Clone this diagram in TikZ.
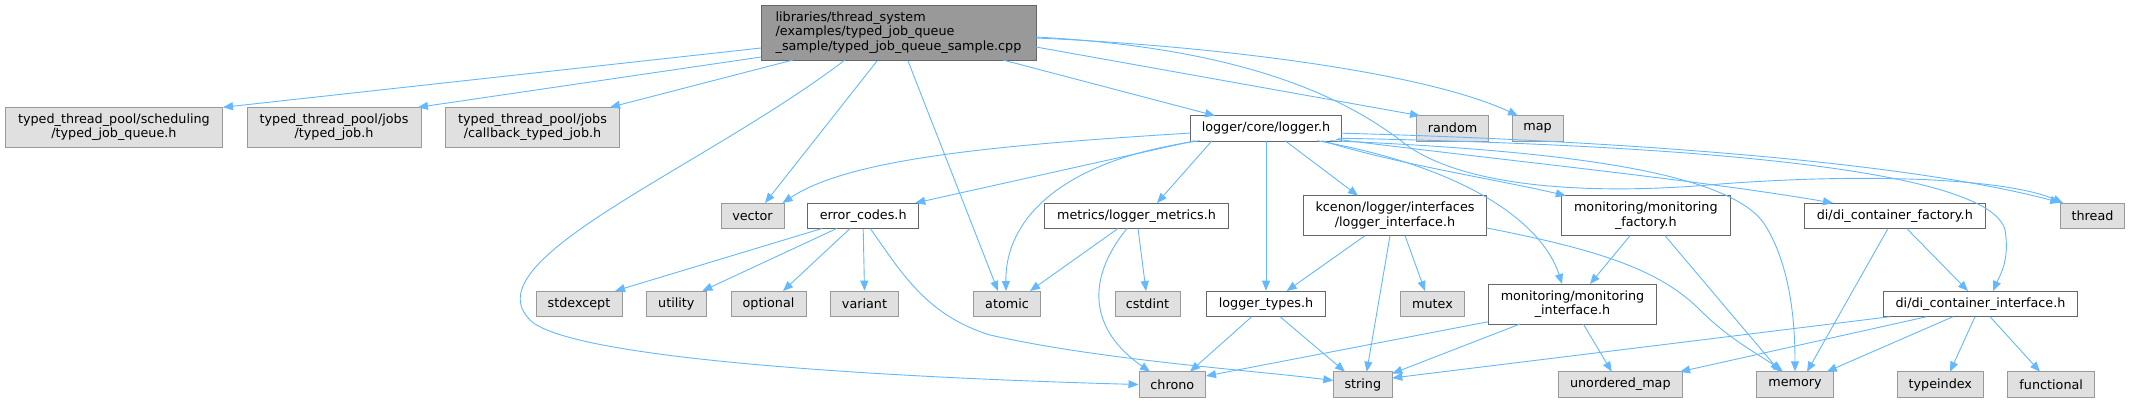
\documentclass[tikz,border=0pt]{standalone}
\usepackage{fontspec}
\setmainfont{DejaVu Sans}
\usetikzlibrary{arrows.meta,calc}
\definecolor{edgec}{HTML}{63B8FF}
\definecolor{gfill}{HTML}{E0E0E0}
\definecolor{gline}{HTML}{999999}
\definecolor{wline}{HTML}{666666}
\definecolor{rfill}{HTML}{999999}
\begin{document}
\begin{tikzpicture}[x=1bp,y=-1bp,
 base/.style={rectangle,inner sep=0pt,line width=0.9bp,minimum height=25.5bp,font=\fontsize{12.8}{14.5}\selectfont,align=center,text=black},
 sys/.style={base,draw=gline,fill=gfill},
 usr/.style={base,draw=wline,fill=white},
 rootbox/.style={base,draw=wline,fill=rfill,align=left,minimum height=55bp},
 two/.style={minimum height=40bp},
 dep/.style={draw=edgec,line width=0.9bp,-{Triangle[length=10bp,width=8bp]}}
]
\useasboundingbox (0,0) rectangle (2130,403);

% nodes
\node[rootbox,minimum width=275bp] (root) at (898.5,32.5) {libraries/thread\_system\\/examples/typed\_job\_queue\\\_sample/typed\_job\_queue\_sample.cpp};

\node[sys,two,minimum width=216.6bp] (sched) at (113.9,127.3) {typed\_thread\_pool/scheduling\\/typed\_job\_queue.h};
\node[sys,two,minimum width=174bp] (tjob) at (334,127.3) {typed\_thread\_pool/jobs\\/typed\_job.h};
\node[sys,two,minimum width=174bp] (cb) at (532.5,127.3) {typed\_thread\_pool/jobs\\/callback\_typed\_job.h};
\node[usr,minimum width=150.6bp] (logger) at (1266,128.2) {logger/core/logger.h};
\node[sys,minimum width=72bp] (random) at (1452.5,128.2) {random};
\node[sys,minimum width=51bp] (map) at (1537.5,128.2) {map};

\node[sys,minimum width=63bp] (vector) at (752.5,215.8) {vector};
\node[usr,minimum width=111bp] (errc) at (863.2,215.8) {error\_codes.h};
\node[usr,minimum width=184bp] (metrics) at (1136.5,215.8) {metrics/logger\_metrics.h};
\node[usr,two,minimum width=183.4bp] (lif) at (1395,215.7) {kcenon/logger/interfaces\\/logger\_interface.h};
\node[usr,two,minimum width=168.3bp] (mfac) at (1645.8,215.7) {monitoring/monitoring\\\_factory.h};
\node[usr,minimum width=181.7bp] (dfac) at (1894.8,215.8) {di/di\_container\_factory.h};
\node[sys,minimum width=63.6bp] (thread) at (2092.5,215.8) {thread};

\node[sys,minimum width=86bp] (stdexcept) at (579,303.8) {stdexcept};
\node[sys,minimum width=60.7bp] (utility) at (676.3,303.8) {utility};
\node[sys,minimum width=75bp] (optional) at (768.5,303.8) {optional};
\node[sys,minimum width=68.4bp] (variant) at (864.5,303.8) {variant};
\node[sys,minimum width=67.4bp] (atomic) at (1007,303.8) {atomic};
\node[sys,minimum width=65bp] (cstdint) at (1147.5,303.8) {cstdint};
\node[usr,minimum width=118.6bp] (ltypes) at (1266,303.8) {logger\_types.h};
\node[sys,minimum width=63.6bp] (mutex) at (1432.5,303.8) {mutex};
\node[usr,two,minimum width=168.4bp] (mif) at (1572.5,304) {monitoring/monitoring\\\_interface.h};
\node[usr,minimum width=194.4bp] (dif) at (1980.5,303.8) {di/di\_container\_interface.h};

\node[sys,minimum width=66.7bp] (chrono) at (1172.3,384.5) {chrono};
\node[sys,minimum width=59bp] (string) at (1362.8,384.5) {string};
\node[sys,minimum width=124bp] (umap) at (1620.3,384.5) {unordered\_map};
\node[sys,minimum width=77.4bp] (memory) at (1795,384.5) {memory};
\node[sys,minimum width=86.7bp] (typeindex) at (1940.3,384.5) {typeindex};
\node[sys,minimum width=87bp] (functional) at (2051.2,384.5) {functional};

% edges from root
\draw[dep] ($(root)+(-137.5,15.5)$) -- ($(sched)+(109.1,-20)$);
\draw[dep] ($(root)+(-137.5,24.5)$) -- ($(tjob)+(84,-20)$);
\draw[dep] ($(root)+(-105.5,27.5)$) -- ($(cb)+(77.5,-20)$);
\draw[dep] ($(root)+(-53.5,27.5)$) .. controls (700,170) and (470,260) .. (530,320)
   .. controls (570,360) and (900,378) .. (chrono.west);
\draw[dep] ($(root)+(-21.5,28.5)$) -- ($(vector)+(12.5,-12.8)$);
\draw[dep] ($(root)+(9.5,28.5)$) -- ($(atomic)+(-9,-12.8)$);
\draw[dep] ($(root)+(104.5,27.5)$) -- ($(logger)+(-51,-12.5)$);
\draw[dep] ($(root)+(137.5,14.5)$) -- ($(random)+(-32.5,-12.5)$);
\draw[dep] ($(root)+(137.5,5.5)$) .. controls (1200,45) and (1420,70) .. ($(map)+(-19.5,-12.5)$);
\draw[dep] ($(root)+(137.5,4.5)$) .. controls (1240,48) and (1340,95) .. (1400,140)
   .. controls (1460,190) and (1600,195) .. (1720,184)
   .. controls (1880,172) and (2010,180) .. ($(thread)+(-29.5,-12.8)$);

% edges from logger.h
\draw[dep] ($(logger)+(-75.3,4.8)$) .. controls (1000,145) and (850,158) .. ($(vector)+(30,-12.8)$);
\draw[dep] ($(logger)+(-71,12.5)$) -- ($(errc)+(52,-12.8)$);
\draw[dep] ($(logger)+(-66,12.5)$) .. controls (1060,160) and (1005,220) .. ($(atomic)+(-1,-12.8)$);
\draw[dep] ($(logger)+(-54,12.5)$) -- ($(metrics)+(20.5,-12.8)$);
\draw[dep] (logger.south) -- (ltypes.north);
\draw[dep] ($(logger)+(19,12.5)$) -- ($(lif)+(-37,-20)$);
\draw[dep] ($(logger)+(56,12.5)$) .. controls (1400,165) and (1500,180) .. ($(mfac)+(-80,-20)$);
\draw[dep] ($(logger)+(51,12.5)$) .. controls (1480,170) and (1545,230) .. ($(mif)+(-10.5,-20)$);
\draw[dep] ($(logger)+(64,12.5)$) .. controls (1550,150) and (1730,170) .. (1765,225)
   .. controls (1790,265) and (1795,320) .. (memory.north);
\draw[dep] ($(logger)+(70,11)$) .. controls (1500,160) and (1700,180) .. ($(dfac)+(-61.8,-12.8)$);
\draw[dep] ($(logger)+(72,10)$) .. controls (1700,145) and (1990,170) .. (2005,230)
   .. controls (2010,260) and (2000,275) .. ($(dif)+(12.5,-12.8)$);
\draw[dep] ($(logger)+(75.3,5)$) .. controls (1600,140) and (1900,160) .. (thread.north west);

% edges from error_codes.h
\draw[dep] ($(errc)+(-41.2,12.7)$) -- ($(stdexcept)+(36,-12.8)$);
\draw[dep] ($(errc)+(-26.5,12.7)$) -- ($(utility)+(26,-12.8)$);
\draw[dep] ($(errc)+(-13.2,12.7)$) -- ($(optional)+(14.5,-12.8)$);
\draw[dep] (errc.south) -- (variant.north);
\draw[dep] ($(errc)+(7,12.7)$) .. controls (900,270) and (925,315) .. (990,335)
   .. controls (1100,360) and (1250,370) .. ($(string)+(-29.5,-4)$);

% edges from metrics
\draw[dep] ($(metrics)+(-18.5,12.7)$) -- ($(atomic)+(23,-12.8)$);
\draw[dep] ($(metrics)+(1.5,12.7)$) -- ($(cstdint)+(-1.5,-12.8)$);
\draw[dep] ($(metrics)+(-9.5,12.7)$) .. controls (1085,280) and (1090,330) .. ($(chrono)+(-22.3,-12.8)$);

% edges from logger_types
\draw[dep] ($(ltypes)+(-14.3,12.9)$) -- ($(chrono)+(17.7,-12.8)$);
\draw[dep] ($(ltypes)+(14,12.9)$) -- ($(string)+(-17.8,-12.8)$);

% edges from logger_interface
\draw[dep] ($(lif)+(-30,20)$) -- ($(ltypes)+(20.7,-12.8)$);
\draw[dep] ($(lif)+(-5,20)$) -- ($(string)+(3.9,-12.8)$);
\draw[dep] ($(lif)+(10,20)$) -- ($(mutex)+(-7.5,-12.8)$);
\draw[dep] ($(lif)+(91.7,12.3)$) .. controls (1600,250) and (1660,270) .. (1700,310)
   .. controls (1730,340) and (1760,355) .. ($(memory)+(-12,-12.8)$);

% edges from monitoring_factory
\draw[dep] ($(mfac)+(-15.8,20)$) -- ($(mif)+(17.5,-20)$);
\draw[dep] ($(mfac)+(19.2,20)$) -- ($(memory)+(-15,-12.8)$);

% edges from di_container_factory
\draw[dep] ($(dfac)+(-6.8,12.7)$) -- ($(memory)+(12,-12.8)$);
\draw[dep] ($(dfac)+(11.9,12.7)$) -- ($(dif)+(-12.5,-12.8)$);

% edges from monitoring_interface
\draw[dep] ($(mif)+(-84.2,17.7)$) -- ($(chrono)+(33.7,-8.5)$);
\draw[dep] ($(mif)+(-52.5,20)$) -- ($(string)+(29.5,-11)$);
\draw[dep] ($(mif)+(10.8,20)$) -- ($(umap)+(-8.6,-12.8)$);

% edges from di_container_interface
\draw[dep] ($(dif)+(-90.5,12.9)$) -- ($(string)+(29.5,-6.5)$);
\draw[dep] ($(dif)+(-53.8,12.9)$) -- ($(umap)+(59.7,-12.8)$);
\draw[dep] ($(dif)+(-27.5,12.9)$) -- ($(memory)+(31.7,-12.8)$);
\draw[dep] ($(dif)+(-5.5,12.9)$) -- ($(typeindex)+(9.7,-12.8)$);
\draw[dep] ($(dif)+(9.5,12.9)$) -- ($(functional)+(-11.2,-12.8)$);
\end{tikzpicture}
\end{document}
